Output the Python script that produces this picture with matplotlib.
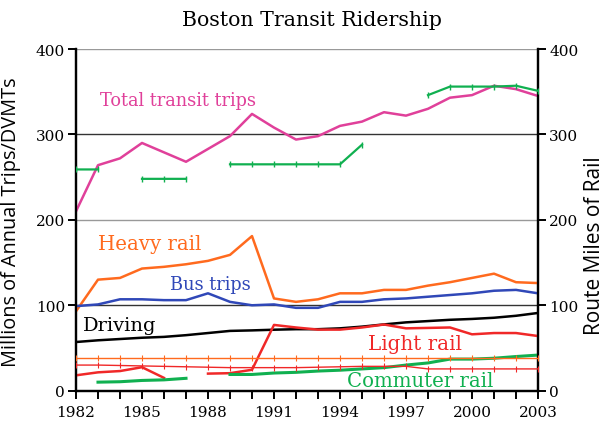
import numpy as np
import matplotlib
matplotlib.use("Agg")
import matplotlib.pyplot as plt

nan = np.nan
years = list(range(1982, 2004))

total_transit = [210, 264, 272, 290, 279, 268, 283, 298, 324, 308, 294, 298,
                 310, 315, 326, 322, 330, 343, 346, 357, 353, 345]
heavy_rail = [93, 130, 132, 143, 145, 148, 152, 159, 181, 108, 104, 107,
              114, 114, 118, 118, 123, 127, 132, 137, 127, 126]
bus_trips = [99, 101, 107, 107, 106, 106, 114, 104, 100, 101, 97, 97,
             104, 104, 107, 108, 110, 112, 114, 117, 118, 114]
driving = [57, 59, 60.5, 62, 63, 65, 67.5, 70, 70.6, 71.4, 72, 72,
           73, 75, 77.6, 80, 81.5, 83, 84, 85.4, 87.7, 91]
light_rail = [18, 21.5, 23, 27.5, 15, nan, 20, 20.5, 24.5, 77, 74, 71.5,
              71.5, 74, 77.5, 73, 73.5, 74, 66, 67.5, 67.5, 64]
commuter_rail = [nan, 10, 10.5, 12, 12.7, 14.5, nan, 19, 19, 20.7, 21.5, 23,
                 24, 25.5, 27, 30, 32.5, 37, 37, 38, 40, 41.7]

# route miles (right axis)
commuter_miles = [259, 259, nan, 248, 248, 248, nan, 265, 265, 265, 265, 265,
                  265, 288, nan, nan, 346, 356, 356, 356, 357, 351]
heavy_miles = [38.5] * 22
light_miles = [30, 30, 29.5, 29, 28.5, 28, 27.5, 27, 27, 27, 27, 27.5,
               28, 28.5, 28.5, 28.5, 25.5, 25.5, 25.5, 25.5, 25.5, 25.5]

xticks = list(range(1982, 2004, 3))
yticks = [0, 100, 200, 300, 400]

c_total = "#E0409A"
c_heavy = "#FF6A1E"
c_bus = "#3048B8"
c_drive = "#000000"
c_light = "#F02828"
c_comm = "#10B050"

serif = ["DejaVu Serif"]
sans = ["Open Sans", "DejaVu Sans"]

fig = plt.figure(figsize=(6.07, 4.31), dpi=100)
ax = fig.add_axes([76/607, 1-391.7/431, 462/607, (391.7-50)/431])
ax2 = ax.twinx()

ax.set_xlim(1982, 2003)
ax.set_ylim(0, 400)
ax2.set_ylim(0, 400)

# gridlines
for v, col in [(100, "#333333"), (200, "#999999"), (300, "#333333"), (400, "#999999")]:
    ax.axhline(v, color=col, lw=1.0, zorder=1)

lw = 1.8
ax.plot(years, total_transit, color=c_total, lw=lw, zorder=3)
ax.plot(years, heavy_rail, color=c_heavy, lw=lw, zorder=3)
ax.plot(years, bus_trips, color=c_bus, lw=lw, zorder=3)
ax.plot(years, driving, color=c_drive, lw=lw, zorder=3)
ax.plot(years, light_rail, color=c_light, lw=lw, zorder=3)
ax.plot(years, commuter_rail, color=c_comm, lw=2.2, zorder=3)

ax2.plot(years, commuter_miles, color=c_comm, lw=1.6, marker="|", ms=5, mew=1.0, zorder=3)
ax2.plot(years, heavy_miles, color=c_heavy, lw=1.0, marker="|", ms=5, mew=0.8, zorder=3)
ax2.plot(years, light_miles, color=c_light, lw=1.0, marker="|", ms=5, mew=0.8, zorder=3)

# axes styling
for a in (ax, ax2):
    a.spines["top"].set_visible(False)
    for s in ("left", "right", "bottom"):
        a.spines[s].set_linewidth(1.6)
ax.set_xticks(years, minor=True)
ax.set_xticks(xticks)
ax.set_xticklabels([str(y) for y in xticks], fontfamily=serif, fontsize=11)
ax.tick_params(axis="x", which="both", direction="out", length=6, width=1.4, pad=4)
ax.set_yticks(yticks)
ax.set_yticklabels([str(v) for v in yticks], fontfamily=serif, fontsize=11)
ax.tick_params(axis="y", direction="out", length=6, width=1.4, pad=2)
ax2.set_yticks(yticks)
ax2.set_yticklabels([str(v) for v in yticks], fontfamily=serif, fontsize=11)
ax2.tick_params(axis="y", direction="out", length=6, width=1.4, pad=2)

ax.set_ylabel("Millions of Annual Trips/DVMTs", fontfamily=sans, fontsize=14.3)
ax.yaxis.set_label_coords((21-76)/462, (391.7-222.5)/341.7)
ax2.set_ylabel("Route Miles of Rail", fontfamily=sans, fontsize=15)
ax2.yaxis.set_label_coords((584-76)/462, (391.7-246)/341.7)

fig.text(312/607, 1-20/431, "Boston Transit Ridership", ha="center", va="center",
         fontfamily=serif, fontsize=14.8)

ax.text(1983.1, 340, "Total transit trips", color=c_total, fontfamily=serif, fontsize=12.8, va="center")
ax.text(1983.0, 172, "Heavy rail", color=c_heavy, fontfamily=serif, fontsize=14.2, va="center")
ax.text(1986.27, 125, "Bus trips", color=c_bus, fontfamily=serif, fontsize=12.8, va="center")
ax.text(1982.3, 77, "Driving", color=c_drive, fontfamily=serif, fontsize=14, va="center")
ax.text(1995.27, 55, "Light rail", color=c_light, fontfamily=serif, fontsize=14.3, va="center")
ax.text(1994.3, 12, "Commuter rail", color=c_comm, fontfamily=serif, fontsize=14.2, va="center")

fig.savefig("out.png", dpi=100)
